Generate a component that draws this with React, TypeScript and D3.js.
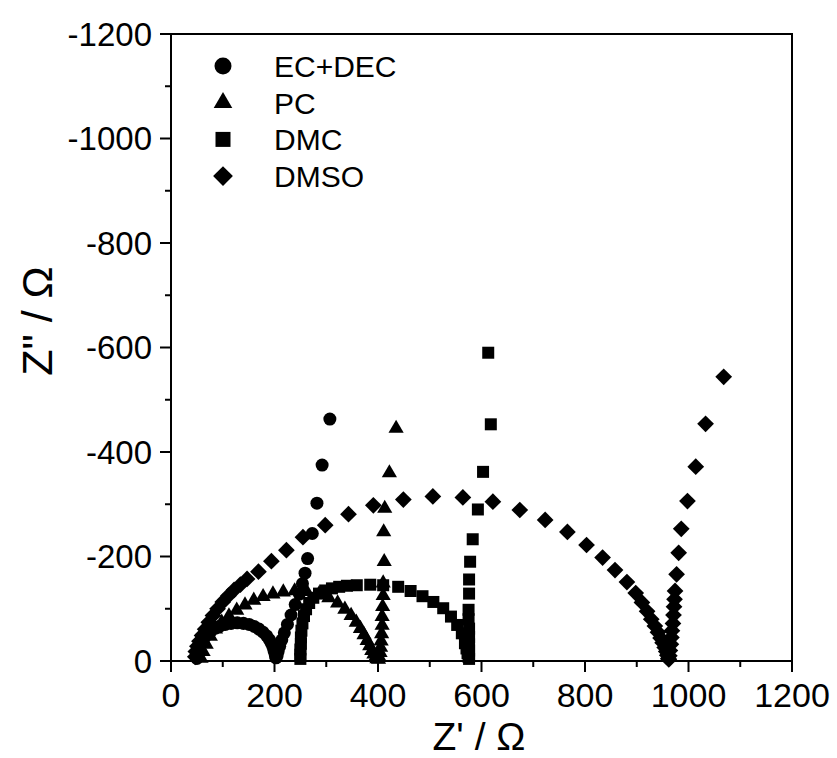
import React from "react";
import * as d3 from "d3";

// Z' (Ω), Z'' (Ω) pairs
const ecDec: [number, number][] = [
  [50, -5], [51, -14], [53, -22], [56, -30], [60, -38], [65, -45], [71, -52], [78, -58], [86, -63],
  [95, -67], [105, -70], [116, -72], [128, -73], [140, -72], [151, -70], [161, -66], [170, -61],
  [178, -55], [185, -48], [190, -41], [194, -34], [197, -27], [199, -20], [201, -14], [202, -9],
  [203, -6], [205, -10], [207, -18], [210, -28], [214, -40], [219, -54], [225, -70], [232, -88],
  [240, -108], [248, -128], [254, -148], [259, -168], [264, -196], [273, -244], [282, -302],
  [292, -375], [307, -463],
];

const pc: [number, number][] = [
  [58, -5], [62, -18], [68, -32], [76, -47], [86, -61], [98, -74], [112, -86], [127, -97],
  [143, -107], [160, -116], [178, -123], [197, -128], [217, -132], [239, -134], [262, -133],
  [286, -128], [305, -121], [322, -111], [336, -99], [348, -87], [358, -74], [366, -62],
  [373, -50], [379, -39], [384, -29], [388, -20], [392, -13], [395, -7], [398, -4], [401, -3],
  [402, -8], [404, -16], [405, -26], [406, -38], [407, -52], [408, -68], [408, -85], [409, -104],
  [410, -125], [410, -149], [412, -190], [411, -247], [413, -292], [422, -360], [435, -445],
];

const dmc: [number, number][] = [
  [250, -4], [250, -12], [250, -22], [251, -33], [251, -45], [252, -58], [254, -72], [257, -86],
  [261, -99], [267, -111], [275, -121], [286, -129], [298, -135], [311, -139], [325, -142],
  [340, -144], [359, -145], [385, -146], [410, -145], [439, -142], [463, -134], [486, -124],
  [507, -113], [526, -101], [541, -85], [553, -69], [562, -53], [568, -34], [571, -24],
  [573, -15], [575, -8], [576, -4], [576, -10], [576, -20], [576, -32], [576, -46], [576, -62],
  [575, -80], [575, -98], [576, -129], [576, -156], [578, -190], [583, -233], [593, -290],
  [603, -362], [618, -453], [613, -590],
];

const dmso: [number, number][] = [
  [47, -8], [48, -18], [51, -28], [55, -38], [60, -49], [66, -61], [73, -74], [81, -87],
  [90, -100], [100, -113], [111, -125], [122, -136], [134, -146], [147, -157], [169, -171],
  [194, -191], [223, -212], [255, -237], [298, -260], [343, -281], [391, -298], [449, -309],
  [506, -315], [564, -313], [622, -305], [674, -289], [723, -270], [766, -247], [803, -222],
  [834, -198], [858, -174], [881, -151], [898, -130], [910, -112], [920, -95], [928, -80],
  [935, -67], [941, -55], [946, -44], [950, -35], [954, -26], [957, -18], [959, -11], [961, -5],
  [962, -3], [963, -10], [964, -20], [966, -32], [967, -45], [968, -58], [970, -72], [971, -88],
  [972, -104], [973, -118], [974, -134], [977, -166], [981, -207], [986, -253], [998, -306],
  [1014, -372], [1033, -454], [1068, -544],
];

const seriesNames = ["EC+DEC", "PC", "DMC", "DMSO"];
const seriesData = [ecDec, pc, dmc, dmso];
const xTicks = [0, 200, 400, 600, 800, 1000, 1200];
const yTicks = [0, -200, -400, -600, -800, -1000, -1200];
const xMinor = [100, 300, 500, 700, 900, 1100];
const yMinor = [-100, -300, -500, -700, -900, -1100];

const W = 837;
const H = 758;
const L = 171, R = 792, T = 34, B = 661;

const x = d3.scaleLinear().domain([0, 1200]).range([L, R]);
const y = d3.scaleLinear().domain([0, -1200]).range([B, T]);

const FONT = "'Liberation Sans', Arial, Helvetica, sans-serif";

function markerPath(kind: number, big: boolean): { d: string; rot: number } {
  if (kind === 0) return { d: d3.symbol(d3.symbolCircle, big ? 227 : 133)() || "", rot: 0 };
  if (kind === 1) return { d: d3.symbol(d3.symbolTriangle, big ? 150 : 100)() || "", rot: 0 };
  if (kind === 2) return { d: d3.symbol(d3.symbolSquare, big ? 225 : 144)() || "", rot: 0 };
  return { d: d3.symbol(d3.symbolSquare, big ? 196 : 140)() || "", rot: 45 };
}

export default function App() {
  return (
    <svg
      width={W}
      height={H}
      viewBox={`0 0 ${W} ${H}`}
      style={{ position: "absolute", left: 0, top: 0, background: "#fff" }}
    >
      <rect x={0} y={0} width={W} height={H} fill="#fff" />
      {/* data */}
      {seriesData.map((data, si) => {
        const m = markerPath(si, false);
        return (
          <g key={si}>
            {data.map((p, i) => (
              <path
                key={i}
                d={m.d}
                fill="#000"
                transform={`translate(${x(p[0])},${y(p[1])}) rotate(${m.rot})`}
              />
            ))}
          </g>
        );
      })}
      {/* frame */}
      <rect x={L} y={T} width={R - L} height={B - T} fill="none" stroke="#000" strokeWidth={2} />
      {/* x ticks */}
      {xTicks.map((t) => (
        <g key={"xt" + t}>
          <line x1={x(t)} x2={x(t)} y1={B} y2={B + 11} stroke="#000" strokeWidth={2} />
          <text
            x={x(t)}
            y={707}
            textAnchor="middle"
            fontFamily={FONT}
            fontSize={34}
            fill="#000"
          >
            {t}
          </text>
        </g>
      ))}
      {xMinor.map((t) => (
        <line key={"xm" + t} x1={x(t)} x2={x(t)} y1={B} y2={B + 6} stroke="#000" strokeWidth={2} />
      ))}
      {/* y ticks */}
      {yTicks.map((t) => (
        <g key={"yt" + t}>
          <line x1={L - 11} x2={L} y1={y(t)} y2={y(t)} stroke="#000" strokeWidth={2} />
          <text
            x={152}
            y={y(t) + 11.5}
            textAnchor="end"
            fontFamily={FONT}
            fontSize={33}
            fill="#000"
          >
            {t}
          </text>
        </g>
      ))}
      {yMinor.map((t) => (
        <line key={"ym" + t} x1={L - 6} x2={L} y1={y(t)} y2={y(t)} stroke="#000" strokeWidth={2} />
      ))}
      {/* axis titles */}
      <text x={479} y={750} textAnchor="middle" fontFamily={FONT} fontSize={39} fill="#000">
        Z' / Ω
      </text>
      <text
        transform={`translate(52,321) rotate(-90)`}
        textAnchor="middle"
        fontFamily={FONT}
        fontSize={43}
        fill="#000"
      >
        Z" / Ω
      </text>
      {/* legend */}
      {seriesNames.map((name, i) => {
        const m = markerPath(i, true);
        const by = 77 + i * 36.7;
        return (
          <g key={name}>
            <path d={m.d} fill="#000" transform={`translate(223,${by - 11}) rotate(${m.rot})`} />
            <text x={274} y={by} fontFamily={FONT} fontSize={30} fill="#000">
              {name}
            </text>
          </g>
        );
      })}
    </svg>
  );
}
